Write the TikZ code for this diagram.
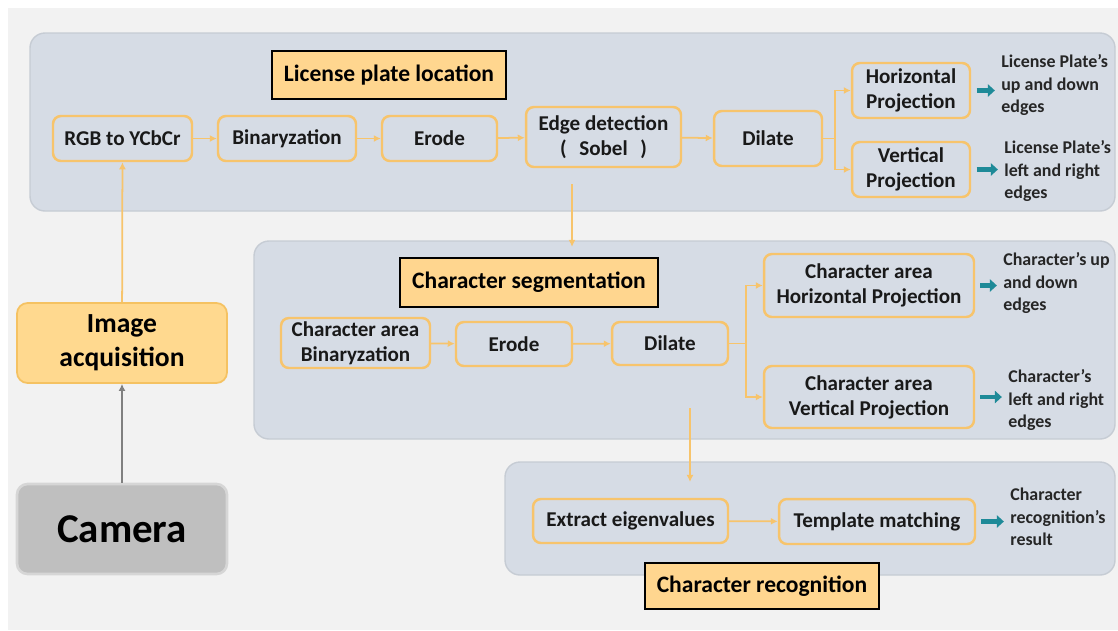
\documentclass[tikz,border=0pt]{standalone}
\usepackage{fontspec}
\setmainfont{Carlito}
\usepackage{tikz}
\usetikzlibrary{arrows,arrows.meta,positioning,calc}
\definecolor{panel}{HTML}{D6DCE5}
\definecolor{panelline}{HTML}{C6CCD4}
\definecolor{orangeline}{HTML}{F7C46C}
\definecolor{titlefill}{HTML}{FFD68F}
\definecolor{acqfill}{HTML}{FFD98F}
\definecolor{acqline}{HTML}{F5C262}
\definecolor{camfill}{HTML}{BFBFBF}
\definecolor{camline}{HTML}{D6D6D6}
\definecolor{tealc}{HTML}{1E8A98}
\definecolor{bgc}{HTML}{F2F2F2}

\begin{document}
\begin{tikzpicture}
[x=0.02cm,y=-0.02cm,
stepbox/.style={draw=orangeline,line width=1.4pt,rounded corners=4.5pt,fill=panel,align=center,inner sep=1pt,font=\fontsize{12}{14.3}\selectfont\bfseries,text=black!90},
titlebox/.style={draw=black,line width=1.3pt,fill=titlefill,inner sep=0pt,font=\fontsize{13.4}{16}\selectfont\bfseries},
note/.style={anchor=west,align=left,inner sep=0pt,font=\fontsize{10.2}{12.8}\selectfont\bfseries,text=black!85},
flow/.style={draw=orangeline,line width=1pt,-{Latex[length=4pt,width=4pt]}},
tealarrow/.style={draw=tealc,line width=2.4pt,-{Triangle[length=4pt,width=7pt]},shorten <=3pt,shorten >=3.5pt},
grayarrow/.style={draw=black!50,line width=1.2pt,-{Latex[length=4pt,width=4pt]}},
panelbox/.style={fill=panel,draw=panelline,line width=0.8pt,rounded corners=0.3cm}]
\useasboundingbox (0,0) rectangle (1118,630);
\fill[white] (0,0) rectangle (1118,630);
\fill[bgc] (8,8) rectangle (1118,630);
\draw[panelbox] (30,33) rectangle (1115,211);
\draw[panelbox] (254,241) rectangle (1115,439);
\draw[panelbox] (505,462) rectangle (1115,575);

\node[titlebox,minimum width=4.68cm,minimum height=0.96cm] (t1) at (389,75) {License plate location};
\node[stepbox,minimum width=2.78cm,minimum height=0.9cm] (10) at (122.5,138.5) {RGB to YCbCr};
\node[stepbox,minimum width=2.76cm,minimum height=0.9cm] (11) at (287,138.5) {Binaryzation};
\node[stepbox,minimum width=2.30cm,minimum height=0.9cm] (12) at (439.5,138.5) {Erode};
\node[stepbox,minimum width=3.10cm,minimum height=1.2cm] (13) at (603.5,137) {Edge detection\\(\hspace{0.6em}Sobel\hspace{0.6em})};
\node[stepbox,minimum width=2.16cm,minimum height=1.1cm] (14) at (768,138.5) {Dilate};
\node[stepbox,minimum width=2.36cm,minimum height=1.1cm] (15) at (911,90.5) {Horizontal\\Projection};
\node[stepbox,minimum width=2.36cm,minimum height=1.1cm] (16) at (911,169.5) {Vertical\\Projection};
\node[note] (15t) at (1001,85) {License Plate’s\\up and down\\edges};
\node[note] (16t) at (1004,171) {License Plate’s\\left and right\\edges};
\coordinate (b1) at (835,138.5);

\node[titlebox,minimum width=5.16cm,minimum height=0.98cm] (t2) at (529,282.5) {Character segmentation};
\node[stepbox,minimum width=2.98cm,minimum height=1.0cm] (20) at (355.5,343) {Character area\\Binaryzation};
\node[stepbox,minimum width=2.32cm,minimum height=0.88cm] (21) at (514,344) {Erode};
\node[stepbox,minimum width=2.32cm,minimum height=0.86cm] (22) at (670,343.5) {Dilate};
\node[stepbox,minimum width=4.2cm,minimum height=1.26cm] (23) at (869,285.5) {Character area\\Horizontal Projection};
\node[stepbox,minimum width=4.2cm,minimum height=1.24cm] (24) at (869,397) {Character area\\Vertical Projection};
\node[note] (23t) at (1003,283) {Character’s up\\and down\\edges};
\node[note] (24t) at (1008,400) {Character’s\\left and right\\edges};
\coordinate (b2) at (746,343.5);

\node[stepbox,minimum width=3.9cm,minimum height=0.88cm] (30) at (630.5,521) {Extract eigenvalues};
\node[stepbox,minimum width=3.92cm,minimum height=0.9cm] (31) at (877,521.5) {Template matching};
\node[note] (31t) at (1010,517) {Character\\recognition’s\\result};
\node[titlebox,minimum width=4.68cm,minimum height=0.92cm] (t3) at (762,586) {Character recognition};

\node[draw=acqline,line width=1pt,fill=acqfill,rounded corners=6pt,minimum width=4.2cm,minimum height=1.6cm,align=center,font=\fontsize{15.7}{19.5}\selectfont\bfseries] (acq) at (122,343) {Image\\acquisition};
\node[draw=camline,line width=1.5pt,fill=camfill,rounded corners=6pt,minimum width=4.2cm,minimum height=1.8cm,font=\fontsize{23.3}{28}\selectfont\bfseries] (cam) at (122,529) {Camera};

\draw[grayarrow] (cam) -- (acq);
\draw[flow] (acq) -- (10);
\draw[flow] (10) -- (11);
\draw[flow] (11) -- (12);
\draw[flow] (12) -- (13);
\draw[flow] (13) -- (14);
\draw[flow] (14) -- (b1) |- (15);
\draw[flow] (b1) |- (16);
\draw[tealarrow] (15.east) -- (15.east -| 15t.west);
\draw[tealarrow] (16.east) -- (16.east -| 16t.west);
\draw[flow,shorten <=9pt,shorten >=5.7pt] ([xshift=-0.63cm]13.south) -- ([xshift=-0.63cm]13.south |- t2.north);

\draw[flow] (20) -- (21);
\draw[flow] (21) -- (22);
\draw[flow] (22) -- (b2) |- (23);
\draw[flow] (b2) |- (24);
\draw[tealarrow] (23.east) -- (23.east -| 23t.west);
\draw[tealarrow] (24.east) -- (24.east -| 24t.west);
\draw[flow,shorten <=24pt,shorten >=9pt] ([xshift=0.4cm]22.south) -- ([xshift=0.4cm]22.south |- 30.north);

\draw[flow] (30) -- (31);
\draw[tealarrow] (31.east) -- (31.east -| 31t.west);
\end{tikzpicture}
\end{document}
